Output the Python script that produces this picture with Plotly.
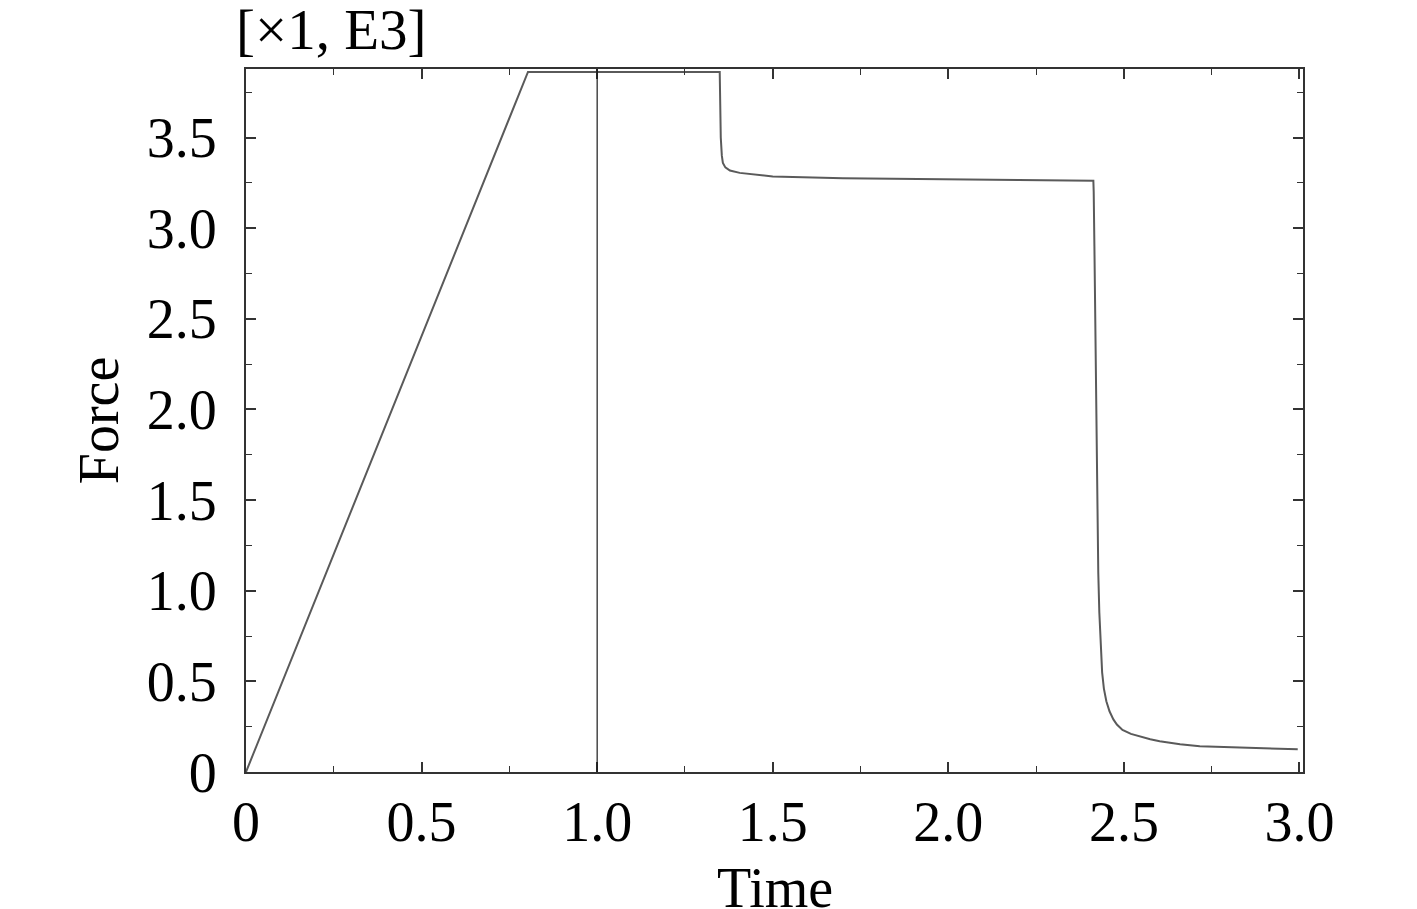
import plotly.graph_objects as go

# Data (Force in units of 1E3)
time = [0.0, 0.803, 1.349, 1.350, 1.352, 1.355, 1.358, 1.365, 1.378, 1.406, 1.455, 1.5, 1.7, 2.0, 2.2,
        2.413, 2.414, 2.416, 2.418, 2.421, 2.424, 2.427, 2.430, 2.434, 2.438, 2.443, 2.45, 2.459,
        2.47, 2.48, 2.496, 2.52, 2.545, 2.575, 2.602, 2.66, 2.716, 2.8, 2.858, 2.93, 2.995]
force = [0.0, 3.862, 3.862, 3.70, 3.50, 3.40, 3.36, 3.335, 3.318, 3.305, 3.295, 3.285, 3.276, 3.268, 3.265,
         3.262, 3.20, 2.90, 2.50, 1.90, 1.45, 1.10, 0.88, 0.68, 0.55, 0.46, 0.39, 0.335,
         0.29, 0.262, 0.232, 0.210, 0.195, 0.181, 0.170, 0.153, 0.142, 0.136, 0.131, 0.128, 0.125]

x_ticks = [0, 0.5, 1.0, 1.5, 2.0, 2.5, 3.0]
x_ticktext = ["0", "0.5", "1.0", "1.5", "2.0", "2.5", "3.0"]
y_ticks = [0, 0.5, 1.0, 1.5, 2.0, 2.5, 3.0, 3.5]
y_ticktext = ["0", "0.5", "1.0", "1.5", "2.0", "2.5", "3.0", "3.5"]
cursor_time = 1.0

FONT = "Liberation Serif, Times New Roman, serif"

fig = go.Figure()
fig.add_trace(go.Scatter(x=time, y=force, mode="lines",
                         line=dict(color="#5a5a5a", width=2), showlegend=False, hoverinfo="skip"))

fig.add_shape(type="line", xref="x", yref="paper", x0=cursor_time, x1=cursor_time, y0=0, y1=1,
              line=dict(color="#1a1a1a", width=1.2))

axis_common = dict(
    showgrid=False, zeroline=False, showline=True, linecolor="#333333", linewidth=2,
    mirror="allticks", ticks="inside", ticklen=10, tickwidth=1.5, tickcolor="#333333",
    tickfont=dict(family=FONT, size=56, color="black"), automargin=False,
    minor=dict(ticks="inside", ticklen=6, tickwidth=1.2, tickcolor="#333333", dtick=0.25),
)

fig.update_xaxes(range=[0, 3.01], tickvals=x_ticks, ticktext=x_ticktext, **axis_common)
fig.update_yaxes(range=[0, 3.878], tickvals=y_ticks, ticktext=y_ticktext, ticklabelstandoff=16,
                 title=dict(text="Force", font=dict(family=FONT, size=56, color="black"), standoff=10),
                 **axis_common)

# x-axis title placed as an annotation so it can sit exactly where the reference has it
fig.add_annotation(text="Time", xref="paper", yref="paper", x=0.5, y=0.0,
                   xanchor="center", yanchor="top", yshift=-83, showarrow=False,
                   font=dict(family=FONT, size=56, color="black"))

fig.add_annotation(text="[×1, E3]", xref="paper", yref="paper", x=-0.011, y=1.0,
                   xanchor="left", yanchor="bottom", yshift=6, showarrow=False,
                   font=dict(family=FONT, size=57, color="black"))

# page body has an 8px margin: compensate so the plot lands where the reference has it
fig.update_layout(
    width=1409, height=901,
    margin=dict(l=238, r=114, t=61, b=137, autoexpand=False),
    paper_bgcolor="white", plot_bgcolor="white",
)

fig.write_html("out.html")
